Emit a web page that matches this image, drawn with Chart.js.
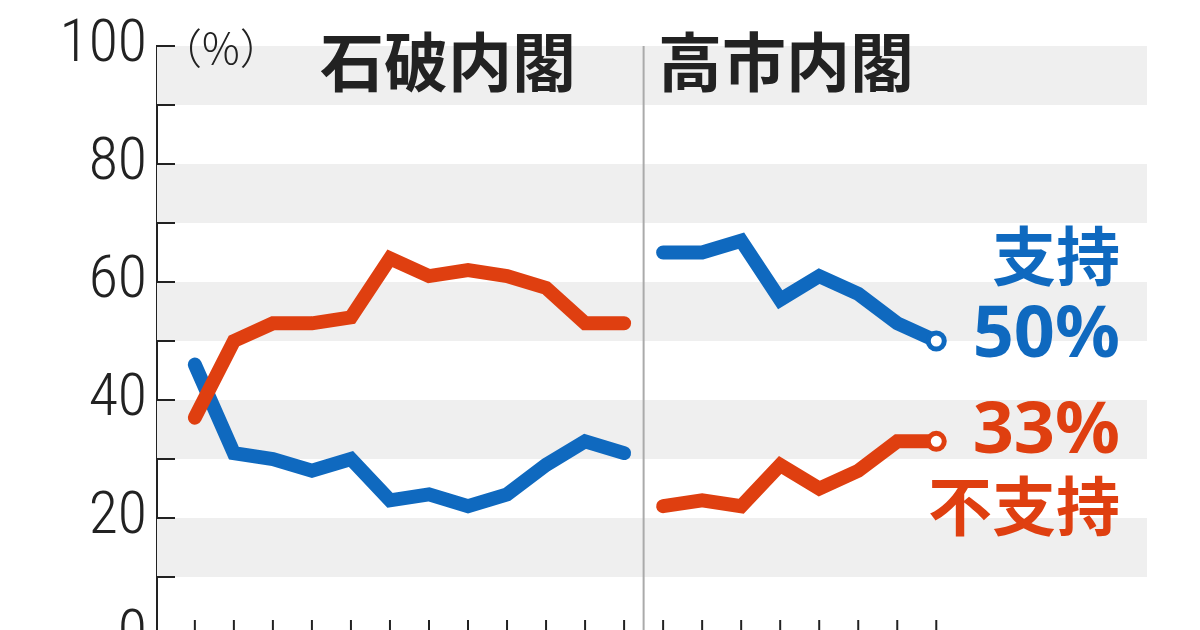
<!DOCTYPE html>
<html>
<head>
<meta charset="utf-8">
<script src="https://cdn.jsdelivr.net/npm/chart.js@4"></script>
<style>
  html, body { margin: 0; padding: 0; background: #fff; overflow: hidden; }
  #wrap { width: 1200px; height: 630px; overflow: hidden; position: relative; }
  canvas { display: block; }
</style>
</head>
<body>
<div id="wrap"><canvas id="lineChart" width="1200" height="682"></canvas></div>
<script>
// survey rounds: 12 under Ishiba, 8 under Takaichi
const ishibaSupport = [46, 31, 30, 28, 30, 23, 24, 22, 24, 29, 33, 31];
const ishibaOppose = [37, 50, 53, 53, 54, 64, 61, 62, 61, 59, 53, 53];
const takaichiSupport = [65, 65, 67, 57, 61, 58, 53, 50];
const takaichiOppose = [22, 23, 22, 29, 25, 28, 33, 33];
const yTickLabels = [0, 20, 40, 60, 80, 100];

const BLUE = "#0f69bf";
const RED = "#df3f10";

function toPoints(values, start) {
    return values.map((v, i) => ({ x: start + i, y: v }));
}
const nIshiba = ishibaSupport.length;
const nTotal = nIshiba + takaichiSupport.length;

function endMarker(len) {
    return Array.from({ length: len }, (_, i) => (i === len - 1 ? 8 : 0));
}

const decor = {
    id: "decor",
    beforeDatasetsDraw(chart) {
        const { ctx, chartArea: a, scales: { x, y } } = chart;
        ctx.save();
        // grey bands
        ctx.fillStyle = "#efefef";
        for (let v = 10; v < 100; v += 20) {
            const top = y.getPixelForValue(v + 10), bot = y.getPixelForValue(v);
            ctx.fillRect(a.left, top, a.right - a.left, bot - top);
        }
        // y tick marks every 10
        ctx.strokeStyle = "#222";
        ctx.lineWidth = 2;
        for (let v = 10; v <= 100; v += 10) {
            const py = y.getPixelForValue(v);
            ctx.beginPath(); ctx.moveTo(a.left, py); ctx.lineTo(a.left + 18, py); ctx.stroke();
        }
        // x tick marks
        for (let i = 0; i < nTotal; i++) {
            const px = x.getPixelForValue(i);
            ctx.beginPath(); ctx.moveTo(px, a.bottom); ctx.lineTo(px, a.bottom - 16); ctx.stroke();
        }
        // cabinet separator
        const sx = x.getPixelForValue(nIshiba - 0.5);
        ctx.strokeStyle = "#aaa";
        ctx.lineWidth = 2;
        ctx.beginPath(); ctx.moveTo(sx, a.top); ctx.lineTo(sx, a.bottom); ctx.stroke();
        ctx.restore();
    },
    afterDraw(chart) {
        const { ctx } = chart;
        ctx.save();
        ctx.textBaseline = "middle";
        ctx.textAlign = "left";
        ctx.fillStyle = "#222";
        ctx.font = "300 42px 'Noto Sans CJK JP'";
        ctx.fillText("（%）", 160, 48);
        ctx.textAlign = "center";
        ctx.font = "bold 64px 'Noto Sans CJK JP'";
        ctx.fillText("石破内閣", 448, 62);
        ctx.fillText("高市内閣", 786, 62);
        ctx.textAlign = "right";
        ctx.fillStyle = BLUE;
        ctx.font = "bold 64px 'Noto Sans CJK JP'";
        ctx.fillText("支持", 1120, 256);
        ctx.font = "bold 72px 'Noto Sans'";
        ctx.fillText("50%", 1120, 336);
        ctx.fillStyle = RED;
        ctx.fillText("33%", 1120, 432);
        ctx.font = "bold 64px 'Noto Sans CJK JP'";
        ctx.fillText("不支持", 1120, 506);
        ctx.restore();
    }
};

function lineSet(values, start, color, marker) {
    return {
        data: toPoints(values, start),
        borderColor: color,
        borderWidth: 14,
        borderJoinStyle: "miter",
        borderCapStyle: "round",
        tension: 0,
        pointRadius: marker ? endMarker(values.length) : 0,
        pointBackgroundColor: "#fff",
        pointBorderColor: color,
        pointBorderWidth: 5,
    };
}

new Chart(document.getElementById("lineChart").getContext("2d"), {
    type: "line",
    data: {
        datasets: [
            lineSet(ishibaOppose, 0, RED, false),
            lineSet(ishibaSupport, 0, BLUE, false),
            lineSet(takaichiOppose, nIshiba, RED, true),
            lineSet(takaichiSupport, nIshiba, BLUE, true),
        ],
    },
    options: {
        responsive: false,
        animation: false,
        layout: { padding: { top: 45, bottom: 25, right: 53, left: 0 } },
        scales: {
            x: {
                type: "linear",
                display: false,
                min: -0.97,
                max: 24.4,
            },
            y: {
                min: 0,
                max: 100,
                afterFit(scale) { scale.width = 157; },
                ticks: {
                    stepSize: 20,
                    padding: 10,
                    color: "#222",
                    font: { family: "'Liberation Sans Narrow', 'Roboto Condensed', Roboto", size: 60, weight: "300" },
                    callback: (v) => (yTickLabels.includes(v) ? v : ""),
                },
                grid: { display: false, drawTicks: false },
                border: { display: true, color: "#222", width: 2 },
            },
        },
        plugins: { legend: { display: false }, tooltip: { enabled: false } },
    },
    plugins: [decor],
});
</script>
</body>
</html>
